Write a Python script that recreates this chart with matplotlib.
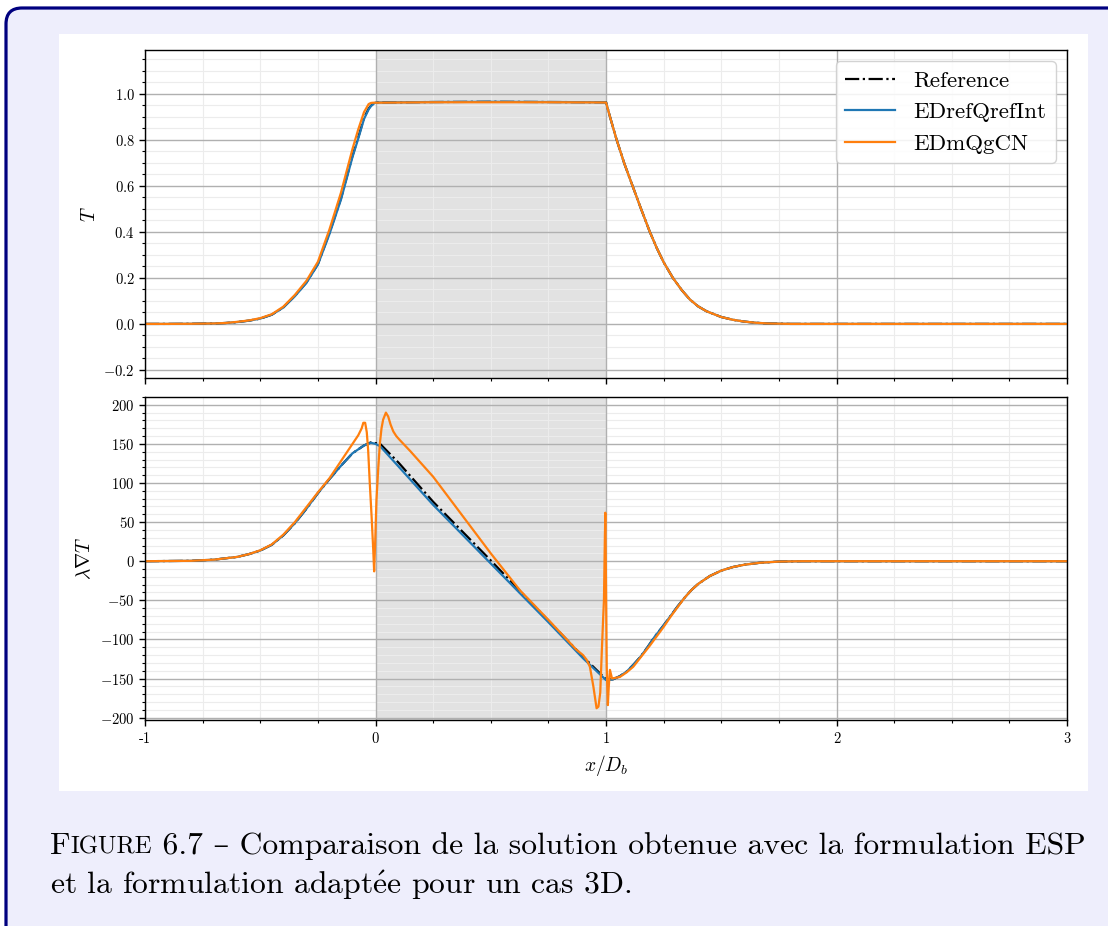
import matplotlib
matplotlib.use("Agg")
import matplotlib.pyplot as plt
from matplotlib.patches import FancyBboxPatch, Rectangle
from matplotlib.ticker import MultipleLocator
from matplotlib.transforms import IdentityTransform

plt.rcParams['font.family'] = ['cmr10', 'DejaVu Serif']
plt.rcParams['mathtext.fontset'] = 'cm'
plt.rcParams['axes.formatter.use_mathtext'] = True

# temperature profile T(x/Db)
x_T = [-1.0, -0.9, -0.8, -0.7, -0.65, -0.6, -0.55, -0.5, -0.45, -0.4, -0.35, -0.3,
       -0.25, -0.2, -0.15, -0.1, -0.075, -0.05, -0.03, -0.02, -0.01, 0.0, 0.25, 0.5,
       0.75, 1.0, 1.02, 1.046, 1.08, 1.115, 1.15, 1.19, 1.22, 1.25, 1.29, 1.33,
       1.364, 1.4, 1.436, 1.5, 1.55, 1.6, 1.65, 1.7, 1.75, 1.8, 2.0, 2.5, 3.0]
T_ref = [0.0, 0.0, 0.0005, 0.002, 0.004, 0.008, 0.014, 0.023, 0.04, 0.072, 0.122, 0.18,
         0.26, 0.395, 0.545, 0.73, 0.81, 0.895, 0.935, 0.948, 0.956, 0.962, 0.964, 0.965,
         0.964, 0.963, 0.89, 0.8, 0.695, 0.6, 0.505, 0.4, 0.33, 0.268, 0.2, 0.145,
         0.106, 0.076, 0.055, 0.03, 0.018, 0.01, 0.005, 0.002, 0.001, 0.0, 0.0, 0.0, 0.0]
T_int = [0.0, 0.0, 0.0005, 0.002, 0.004, 0.008, 0.014, 0.023, 0.04, 0.071, 0.12, 0.178,
         0.258, 0.39, 0.54, 0.725, 0.805, 0.89, 0.932, 0.946, 0.955, 0.962, 0.964, 0.965,
         0.964, 0.963, 0.89, 0.8, 0.695, 0.6, 0.505, 0.4, 0.33, 0.268, 0.2, 0.145,
         0.106, 0.076, 0.055, 0.03, 0.018, 0.01, 0.005, 0.002, 0.001, 0.0, 0.0, 0.0, 0.0]
T_cn = [0.0, 0.0, 0.0005, 0.002, 0.004, 0.009, 0.015, 0.025, 0.042, 0.075, 0.126, 0.187,
        0.27, 0.41, 0.57, 0.76, 0.845, 0.92, 0.955, 0.96, 0.961, 0.961, 0.963, 0.963,
        0.963, 0.962, 0.89, 0.8, 0.695, 0.6, 0.505, 0.4, 0.33, 0.268, 0.2, 0.145,
        0.106, 0.076, 0.055, 0.03, 0.018, 0.01, 0.005, 0.002, 0.001, 0.0, 0.0, 0.0, 0.0]

# heat flux lambda grad T
x_g = [-1.0, -0.8, -0.7, -0.6, -0.55, -0.5, -0.45, -0.4, -0.35, -0.3, -0.25, -0.2,
       -0.15, -0.1, -0.05, -0.02, 0.0, 0.02, 0.1, 0.25, 0.5, 0.75, 0.9, 1.0, 1.03,
       1.06, 1.09, 1.12, 1.15, 1.18, 1.21, 1.25, 1.28, 1.31, 1.34, 1.37, 1.4, 1.45,
       1.5, 1.55, 1.6, 1.667, 1.75, 1.85, 2.0, 3.0]
g_int = [0.0, 0.5, 2.0, 5.5, 9.0, 13.6, 21.0, 33.0, 48.6, 67.0, 87.0, 105.0,
         122.0, 138.0, 148.0, 151.5, 150.0, 147.0, 121.0, 72.0, -3.0, -78.0, -124.0, -152.0, -151.0,
         -147.0, -141.0, -132.0, -122.0, -110.0, -97.0, -82.0, -70.0, -58.0, -47.0, -37.0, -29.0, -19.0,
         -12.0, -7.5, -4.5, -2.0, -0.5, 0.0, 0.0, 0.0]
g_ref = [0.0, 0.5, 2.0, 5.5, 9.0, 13.6, 21.0, 33.0, 48.6, 67.0, 87.0, 105.0,
         122.0, 138.0, 148.0, 152.0, 151.0, 150.0, 126.0, 76.0, 1.0, -76.0, -122.0, -151.0, -151.0,
         -147.0, -141.0, -132.0, -122.0, -110.0, -97.0, -82.0, -70.0, -58.0, -47.0, -37.0, -29.0, -19.0,
         -12.0, -7.5, -4.5, -2.0, -0.5, 0.0, 0.0, 0.0]
x_g_cn = [-1.0, -0.8, -0.7, -0.6, -0.55, -0.5, -0.45, -0.4, -0.35, -0.3, -0.25, -0.2,
          -0.15, -0.1, -0.075, -0.06, -0.053, -0.045, -0.038, -0.032, -0.025, -0.017,
          -0.01, -0.006, -0.002, 0.004, 0.012, 0.019, 0.026, 0.033, 0.045, 0.055, 0.065,
          0.077, 0.09, 0.105, 0.15, 0.25, 0.5, 0.626, 0.75, 0.871, 0.9, 0.916, 0.93,
          0.945, 0.959, 0.967, 0.975, 0.982, 0.988, 0.991, 0.995, 0.997, 0.999, 1.003,
          1.008, 1.012, 1.017, 1.026, 1.06, 1.09, 1.118, 1.15, 1.19, 1.25, 1.28, 1.31,
          1.34, 1.37, 1.4, 1.45, 1.5, 1.55, 1.6, 1.667, 1.75, 1.85, 2.0, 3.0]
g_cn = [0.0, 0.5, 2.0, 5.5, 9.0, 14.0, 21.5, 34.0, 50.0, 69.0, 88.0, 106.0,
        128.0, 150.0, 161.0, 170.0, 177.0, 177.0, 165.0, 142.0, 100.0, 57.0,
        15.0, -13.0, 20.0, 78.0, 120.0, 151.0, 170.0, 181.0, 190.0, 185.0, 175.0,
        166.0, 160.0, 155.0, 141.0, 108.0, 10.0, -37.0, -75.0, -113.0, -120.0, -126.0, -135.0,
        -160.0, -188.0, -186.0, -168.0, -113.0, -70.0, -50.0, 30.0, 62.0, 0.0, -135.0,
        -184.0, -160.0, -139.0, -150.0, -148.0, -142.0, -135.0, -123.0, -108.0, -84.0, -71.0, -59.0,
        -47.0, -37.0, -29.0, -19.0, -12.0, -7.5, -4.5, -2.0, -0.5, 0.0, 0.0, 0.0]

xticks = [-1, 0, 1, 2, 3]
xticklabels = ['-1', '0', '1', '2', '3']

fig = plt.figure(figsize=(11.08, 9.26), dpi=100)
fig.patch.set_facecolor('white')

# framed box + white panel like the page
frame = FancyBboxPatch((6, -40), 1150, 958, boxstyle="round,pad=0,rounding_size=16",
                       transform=IdentityTransform(), facecolor='#eeeefc',
                       edgecolor='#00007f', linewidth=2.3, zorder=-3)
fig.add_artist(frame)
panel = Rectangle((59, 135), 1029, 757, transform=IdentityTransform(),
                  facecolor='white', edgecolor='none', zorder=-2)
fig.add_artist(panel)

ax1 = fig.add_axes([0.1309, 0.5918, 0.8321, 0.3542])
ax2 = fig.add_axes([0.1309, 0.2225, 0.8321, 0.3488], sharex=ax1)

ax1.set_xlim(-1, 3)
ax1.set_ylim(-0.235, 1.19)
ax1.yaxis.set_major_locator(MultipleLocator(0.2))
ax1.yaxis.set_minor_locator(MultipleLocator(0.05))
ax2.set_ylim(-203, 210)
ax2.yaxis.set_major_locator(MultipleLocator(50))
ax2.yaxis.set_minor_locator(MultipleLocator(10))
ax2.set_xticks(xticks)
ax2.set_xticklabels(xticklabels)

for ax in (ax1, ax2):
    ax.set_axisbelow(True)
    ax.axvspan(0, 1, color='#e2e2e2', zorder=0, lw=0)
    ax.xaxis.set_minor_locator(MultipleLocator(0.25))
    ax.grid(which='minor', color='#ececec', lw=0.8)
    # major grid drawn on top of the minor one so it stays continuous
    for v in ax.get_yticks():
        ax.axhline(v, color='#b0b0b0', lw=1.0, zorder=0.8)
    for v in xticks:
        ax.axvline(v, color='#b0b0b0', lw=1.0, zorder=0.8)
    ax.tick_params(which='major', direction='out', length=4, width=1, labelsize=10.5)
    ax.tick_params(which='minor', direction='out', length=2.5, width=0.8)
    for s in ax.spines.values():
        s.set_linewidth(1.0)
        s.set_zorder(3)

ax1.set_ylim(-0.235, 1.19)
ax2.set_ylim(-203, 210)
ax1.set_xlim(-1, 3)

ax1.plot(x_T, T_ref, color='black', ls='-.', lw=1.6, label='Reference')
ax1.plot(x_T, T_int, color='tab:blue', lw=1.6, label='EDrefQrefInt')
ax1.plot(x_T, T_cn, color='tab:orange', lw=1.6, label='EDmQgCN')

ax2.plot(x_g, g_ref, color='black', ls='-.', lw=1.6)
ax2.plot(x_g, g_int, color='tab:blue', lw=1.6)
ax2.plot(x_g_cn, g_cn, color='tab:orange', lw=1.6)

ax2.tick_params(axis='x', which='major', pad=5)
ax1.tick_params(labelbottom=False)
ax1.set_ylabel('$T$', fontsize=14, labelpad=3)
ax2.set_ylabel(r'$\lambda\nabla T$', fontsize=14, labelpad=4)
ax2.set_xlabel('$x/D_b$', fontsize=14, labelpad=5)

ax1.legend(loc='upper right', fontsize=16.5, handlelength=2.2, framealpha=0.85)

# caption with small caps "Figure"
cap_size = 22.8
y1 = 1 - 854 / 926
y2 = 1 - 894 / 926
renderer = fig.canvas.get_renderer()
x0 = 50 / 1108
pieces = [('F', cap_size), ('IGURE', cap_size * 0.78),
          (' 6.7 – Comparaison de la solution obtenue avec la formulation ESP', cap_size)]
xc = x0
for txt, sz in pieces:
    t = fig.text(xc, y1, txt, fontsize=sz, va='baseline', ha='left')
    bb = t.get_window_extent(renderer=renderer)
    xc += bb.width / 1108
fig.text(x0, y2, r'et la formulation adapt$\mathrm{\acute{e}}$e pour un cas 3D.',
         fontsize=cap_size, va='baseline', ha='left')

fig.savefig('out.png', dpi=100, facecolor='white')
